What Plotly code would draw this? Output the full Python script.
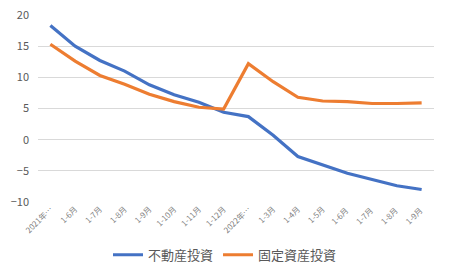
import plotly.graph_objects as go

categories = ["2021年…", "1-6月", "1-7月", "1-8月", "1-9月", "1-10月", "1-11月", "1-12月",
              "2022年…", "1-3月", "1-4月", "1-5月", "1-6月 ", "1-7月 ", "1-8月 ", "1-9月 "]
real_estate = [18.3, 15.0, 12.7, 11.0, 8.8, 7.2, 6.0, 4.4, 3.7, 0.7, -2.7, -4.0, -5.4, -6.4, -7.4, -8.0]
fixed_asset = [15.3, 12.6, 10.3, 8.9, 7.3, 6.1, 5.2, 4.9, 12.2, 9.3, 6.8, 6.2, 6.1, 5.8, 5.8, 5.9]
y_ticks = [-10, -5, 0, 5, 10, 15, 20]

font_family = "Noto Sans CJK JP, Noto Sans, sans-serif"

fig = go.Figure()
fig.add_trace(go.Scatter(x=categories, y=real_estate, mode="lines", name="不動産投資",
                         line=dict(color="#4472C4", width=3.2)))
fig.add_trace(go.Scatter(x=categories, y=fixed_asset, mode="lines", name="固定資産投資",
                         line=dict(color="#ED7D31", width=3.2)))

fig.update_layout(
    width=450, height=280,
    margin=dict(l=38, r=16, t=15, b=78, autoexpand=False),
    paper_bgcolor="white", plot_bgcolor="white",
    font=dict(family=font_family, color="#595959"),
    showlegend=True,
    legend=dict(orientation="h", xref="container", x=0.5, xanchor="center",
                yref="container", y=0.09, yanchor="middle",
                font=dict(size=13, color="#595959")),
)
fig.update_xaxes(type="category", tickangle=-45, tickfont=dict(size=8, color="#7F7F7F"),
                 showgrid=False, showline=False, ticks="", range=[-0.5, 15.5], automargin=False)
fig.update_yaxes(range=[-10, 20], tickvals=y_ticks, tickfont=dict(size=11, color="#595959"),
                 gridcolor="#D9D9D9", gridwidth=1, zeroline=False, showline=False, ticks="",
                 automargin=False, ticklabelstandoff=8)

fig.write_html("out.html")
